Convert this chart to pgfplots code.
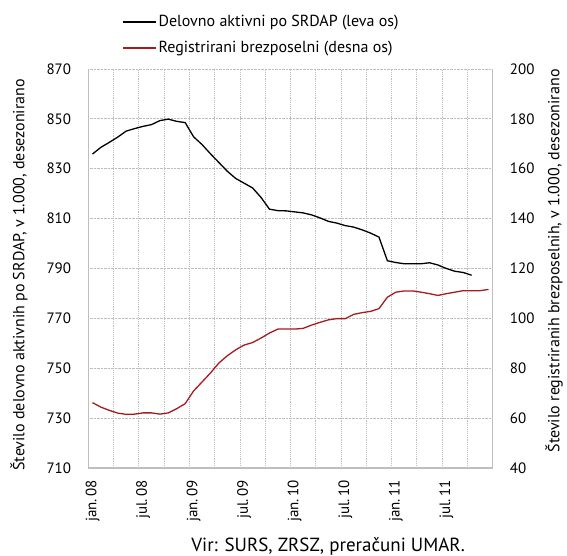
\documentclass[border=0pt]{standalone}
\usepackage{pgfplots}
\pgfplotsset{compat=1.18}
\usepackage{fontspec}
\setmainfont{PT Sans}

\definecolor{unemp}{RGB}{165,28,32}
\definecolor{gridgray}{RGB}{190,190,190}

% employed persons (SRDAP), thousands, jan.08 - oct.11
\pgfplotstableread{
i  v
0  835.9
1  838.6
2  840.6
3  842.7
4  845.1
5  846.1
6  847.0
7  847.7
8  849.3
9  849.9
10 849.0
11 848.5
12 842.8
13 839.7
14 836.0
15 832.5
16 829.0
17 826.1
18 824.2
19 822.3
20 818.5
21 813.8
22 813.2
23 813.1
24 812.7
25 812.3
26 811.5
27 810.3
28 808.9
29 808.2
30 807.2
31 806.6
32 805.5
33 804.2
34 802.6
35 793.1
36 792.4
37 791.9
38 791.9
39 791.9
40 792.3
41 791.4
42 790.0
43 788.9
44 788.4
45 787.3
}\employed

% registered unemployed, thousands, jan.08 - dec.11
\pgfplotstableread{
i  v
0  66.2
1  64.4
2  63.1
3  62.0
4  61.5
5  61.6
6  62.1
7  62.1
8  61.6
9  62.1
10 63.8
11 65.8
12 70.9
13 74.5
14 78.1
15 82.1
16 85.0
17 87.4
18 89.3
19 90.3
20 92.1
21 94.1
22 95.7
23 95.7
24 95.7
25 96.0
26 97.3
27 98.4
28 99.4
29 99.9
30 99.9
31 101.6
32 102.3
33 102.8
34 103.9
35 108.5
36 110.5
37 111.0
38 111.0
39 110.5
40 109.9
41 109.2
42 109.9
43 110.5
44 111.1
45 111.1
46 111.1
47 111.6
}\unemployed

\pgfplotsset{
  common/.style={
    scale only axis,
    width=404.4pt, height=399pt,
    xmin=-0.5, xmax=47.5,
    major tick length=0pt, minor tick length=0pt,
    axis line style={gridgray, line width=1.3pt},
    /pgf/number format/assume math mode=true,
    tick label style={inner sep=0pt, font=\fontsize{15}{18}\selectfont},
    yticklabel shift=17pt,
  },
}

\begin{document}
\fontsize{16}{19}\selectfont
\begin{tikzpicture}
\begin{axis}[common,
  axis x line*=bottom, axis y line*=left,
  ymin=710, ymax=870, ytick={710,730,...,870},
  xtick={0,6,...,42},
  xticklabels={jan.\,08,jul.\,08,jan.\,09,jul.\,09,jan.\,10,jul.\,10,jan.\,11,jul.\,11},
  xticklabel style={rotate=90, anchor=east},
  xticklabel shift=12pt,
  minor xtick={2.5,5.5,...,44.5},
  xminorgrids, ymajorgrids,
  grid style={densely dotted, gridgray, line width=0.9pt},
  minor grid style={densely dotted, gridgray, line width=0.9pt},
  xlabel={Vir: SURS, ZRSZ, preračuni UMAR.},
  every axis x label/.style={at={(axis description cs:0.593,-0.1955)}, anchor=center,
    font=\fontsize{19}{22}\selectfont},
  ylabel={Število delovno aktivnih po SRDAP, v 1.000, desezonirano},
  every axis y label/.style={at={(axis description cs:-0.1714,0.484)}, rotate=90, anchor=center},
]
\addplot[black, line width=1.3pt] table[x=i, y=v] {\employed};
\coordinate (sw) at (rel axis cs:0,0);
\coordinate (ne) at (rel axis cs:1,1);
\end{axis}
\begin{axis}[common,
  axis x line=none, axis y line*=right,
  ymin=40, ymax=200, ytick={40,60,...,200},
  yticklabel style={anchor=west},
  ylabel={Število registriranih brezposelnih, v 1.000, desezonirano},
  every axis y label/.style={at={(axis description cs:1.152,0.519)}, rotate=90, anchor=center},
  legend cell align=left,
  legend image code/.code={\draw[#1] (0pt,0pt) -- (33pt,0pt);},
  legend style={draw=none, fill=none, inner sep=0pt,
    at={(axis description cs:0.0835,1.03)}, anchor=south west,
    /tikz/row sep=8pt,
    /tikz/every even column/.style={column sep=1pt}},
]
\addlegendimage{black, line width=1.3pt}
\addlegendentry{Delovno aktivni po SRDAP (leva os)}
\addplot[unemp, line width=1.3pt] table[x=i, y=v] {\unemployed};
\addlegendentry{Registrirani brezposelni (desna os)}
\end{axis}
\pgfresetboundingbox
\path[use as bounding box] ([shift={(-88.3pt,-88pt)}]sw) rectangle ([shift={(74.3pt,69pt)}]ne);
\end{tikzpicture}
\end{document}
